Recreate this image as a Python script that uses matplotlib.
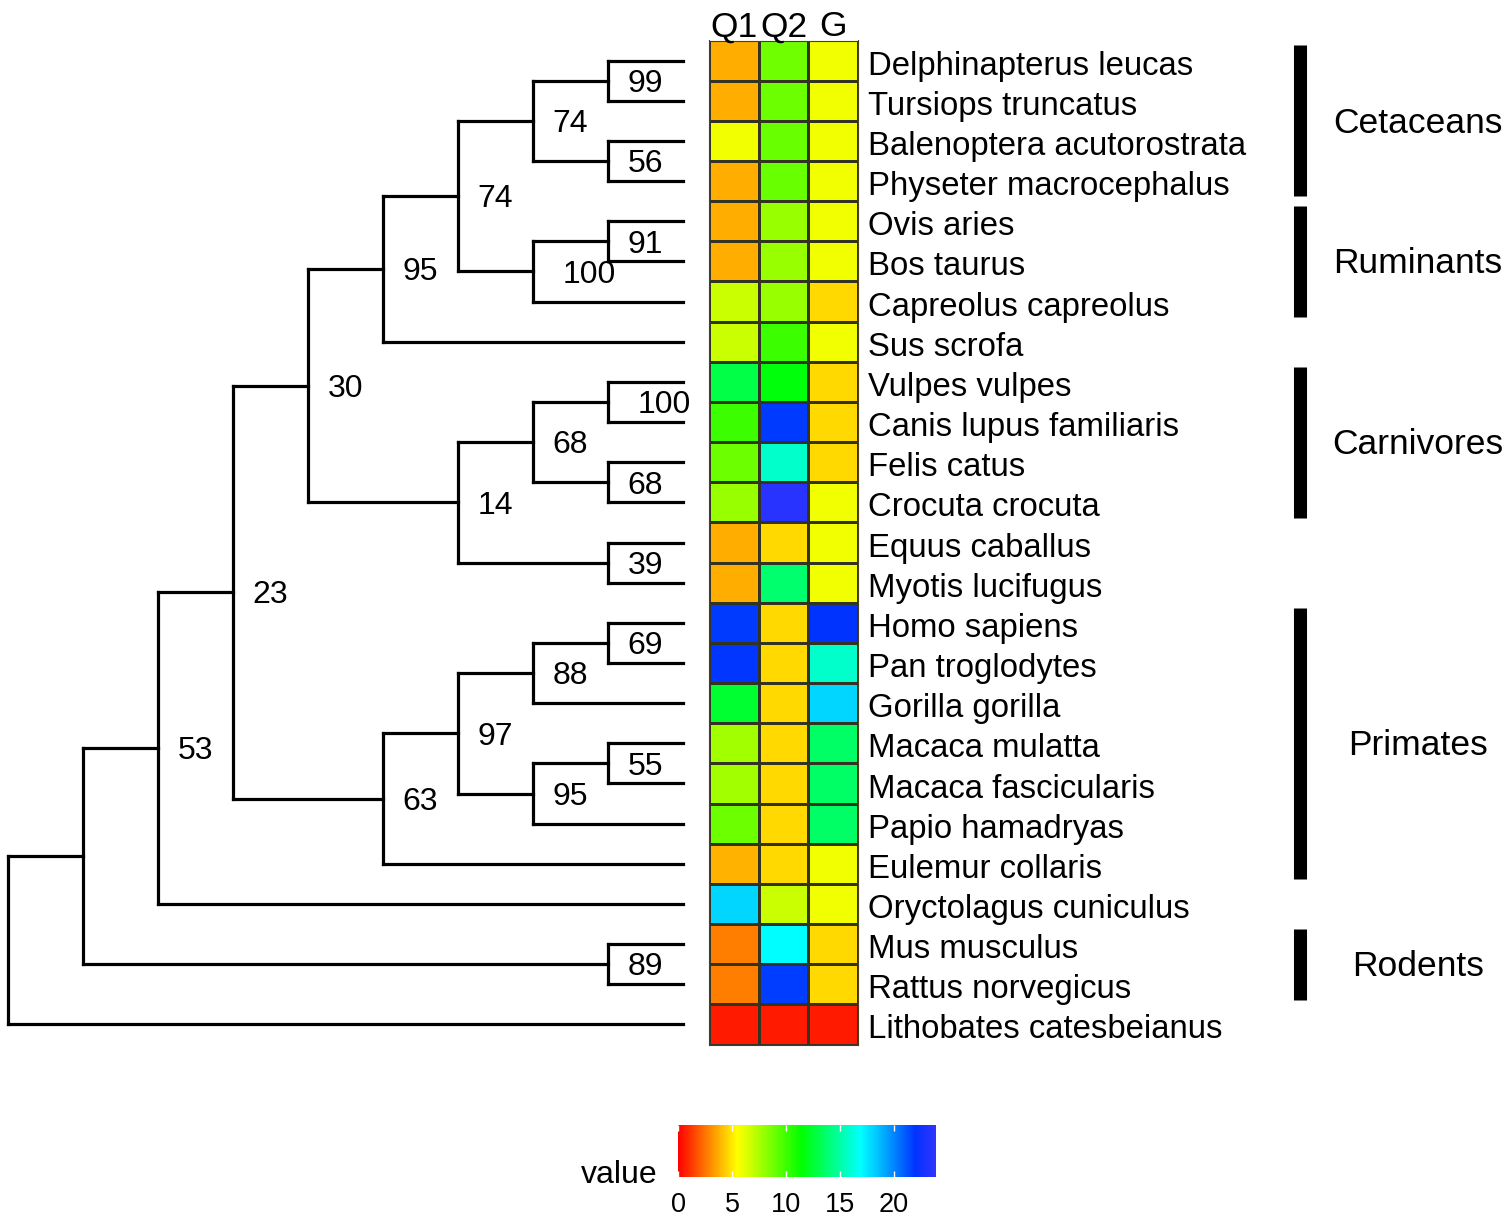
import matplotlib
matplotlib.use("Agg")
import matplotlib.pyplot as plt
import numpy as np
from matplotlib.colors import LinearSegmentedColormap, Normalize
from matplotlib.cm import ScalarMappable

plt.rcParams['font.family'] = ['Liberation Sans', 'DejaVu Sans']

# tree (cladogram, support values as node labels)
newick = ("(((((((((Delphinapterus leucas,Tursiops truncatus)99,"
          "(Balenoptera acutorostrata,Physeter macrocephalus)56)74,"
          "((Ovis aries,Bos taurus)91,Capreolus capreolus)100)74,Sus scrofa)95,"
          "(((Vulpes vulpes,Canis lupus familiaris)100,(Felis catus,Crocuta crocuta)68)68,"
          "(Equus caballus,Myotis lucifugus)39)14)30,"
          "((((Homo sapiens,Pan troglodytes)69,Gorilla gorilla)88,"
          "((Macaca mulatta,Macaca fascicularis)55,Papio hamadryas)95)97,Eulemur collaris)63)23,"
          "Oryctolagus cuniculus)53,(Mus musculus,Rattus norvegicus)89),Lithobates catesbeianus);")

# heatmap values, in tip order (top to bottom)
columns = ["Q1", "Q2", "G"]
q1 = [3.8, 3.8, 5.8, 3.8, 3.8, 3.8, 6.8, 6.8, 12.9, 10.0, 8.9, 7.9, 3.8,
      3.8, 21.8, 21.9, 12.5, 7.7, 7.7, 8.9, 3.9, 18.0, 2.8, 2.8, 0.6]
q2 = [8.8, 8.9, 9.0, 9.0, 7.9, 7.9, 7.9, 10.0, 11.6, 21.8, 15.8, 23.5, 4.75,
      13.8, 4.75, 4.75, 4.75, 4.75, 4.75, 4.75, 4.75, 6.8, 17.0, 21.7, 0.6]
g = [5.85, 5.85, 5.85, 5.85, 5.85, 5.85, 4.75, 5.85, 4.75, 4.75, 4.75, 5.85, 5.85,
     5.85, 22.0, 15.8, 18.0, 13.6, 13.6, 13.6, 5.85, 5.85, 4.75, 4.75, 0.6]

groups = ["Cetaceans", "Ruminants", "Carnivores", "Primates", "Rodents"]
group_first = [0, 4, 8, 14, 22]
group_last = [3, 6, 11, 20, 23]

cbar_ticks = [0, 5, 10, 15, 20]
vmax = 23.9


def parse(s):
    pos = 0

    def node():
        nonlocal pos
        kids = []
        if s[pos] == '(':
            pos += 1
            kids.append(node())
            while s[pos] == ',':
                pos += 1
                kids.append(node())
            pos += 1
        start = pos
        while s[pos] not in ',);':
            pos += 1
        return {'name': s[start:pos], 'children': kids}
    return node()


root = parse(newick)
tips = []


def height(n):
    if not n['children']:
        n['h'] = 0
    else:
        n['h'] = max(height(c) for c in n['children']) + 1
    return n['h']


def place(n, top):
    n['x'] = top - n['h']
    if not n['children']:
        n['y'] = len(tips)
        tips.append(n['name'])
    else:
        for c in n['children']:
            place(c, top)
        n['y'] = (n['children'][0]['y'] + n['children'][-1]['y']) / 2


H0 = height(root)
place(root, H0)
nrow = len(tips)

W, H = 1510, 1219
fig = plt.figure(figsize=(W / 100, H / 100), dpi=100)


def px_axes(x0, y0, x1, y1):
    return fig.add_axes([x0 / W, 1 - y1 / H, (x1 - x0) / W, (y1 - y0) / H])


top, bot = 40.5, 1044.5

# tree
ax_tree = px_axes(0, top, 709, bot)
ax_tree.set_xlim(-8 / 75, 701 / 75)
ax_tree.set_ylim(nrow - 0.5, -0.5)
ax_tree.axis('off')

lw = 2.3


def draw(n):
    if not n['children']:
        return
    ys = [c['y'] for c in n['children']]
    ax_tree.plot([n['x'], n['x']], [min(ys), max(ys)], color='black', lw=lw,
                 solid_capstyle='projecting')
    for c in n['children']:
        ax_tree.plot([n['x'], c['x']], [c['y'], c['y']], color='black', lw=lw,
                     solid_capstyle='projecting')
        draw(c)
    if n['name']:
        lab = n['name']
        ax_tree.text(n['x'] + 0.5 + 0.25 * (len(lab) - 2), n['y'] + 0.28, lab,
                     ha='center', va='baseline', fontsize=23)


draw(root)

# heatmap
cmap = LinearSegmentedColormap.from_list(
    'rb', [(0, '#FF0000'), (5.5 / vmax, '#FFFF00'), (11.4 / vmax, '#00FF00'),
           (17 / vmax, '#00FFFF'), (22 / vmax, '#0033FF'), (1, '#3333FF')])
norm = Normalize(0, vmax)

ax_heat = px_axes(709, top, 858, bot)
vals = np.column_stack([q1, q2, g])
ax_heat.pcolormesh(np.arange(len(columns) + 1) - 0.5, np.arange(nrow + 1) - 0.5, vals,
                   cmap=cmap, norm=norm, edgecolors='#333322', linewidth=0.8)
ax_heat.set_xlim(-0.5, 2.5)
ax_heat.set_ylim(nrow - 0.5, -0.5)
ax_heat.set_xticks([])
ax_heat.set_yticks([])
for sp in ax_heat.spines.values():
    sp.set_color('#4a4020')
    sp.set_linewidth(0.8)
for j, c in enumerate(columns):
    ax_heat.text(j, -0.6, c, ha='center', va='baseline', fontsize=25.5, clip_on=False)

# labels and groups
ax_lab = px_axes(858, top, 1510, bot)
ax_lab.set_xlim(858, 1510)
ax_lab.set_ylim(nrow - 0.5, -0.5)
ax_lab.axis('off')
for i, name in enumerate(tips):
    ax_lab.text(868, i + 0.35, name, ha='left', va='baseline', fontsize=23.7)
for name, a, b in zip(groups, group_first, group_last):
    ax_lab.vlines(1299.5, a - 0.38, b + 0.38, color='black', lw=9.4, capstyle='butt')
    ax_lab.text(1418, (a + b) / 2 + 0.3, name, ha='center', va='baseline', fontsize=25.5)

# colour bar
cax = px_axes(678, 1125, 936, 1177)
cb = fig.colorbar(ScalarMappable(norm=norm, cmap=cmap), cax=cax, orientation='horizontal',
                  ticks=cbar_ticks)
cb.outline.set_visible(False)
cax.tick_params(axis='x', direction='in', length=4, width=1, color='white',
                top=True, bottom=True, labelsize=19.5, pad=11)
fig.text(658 / W, 1 - 1183 / H, 'value', ha='right', va='baseline', fontsize=23)

fig.savefig('out.png', dpi=100)
